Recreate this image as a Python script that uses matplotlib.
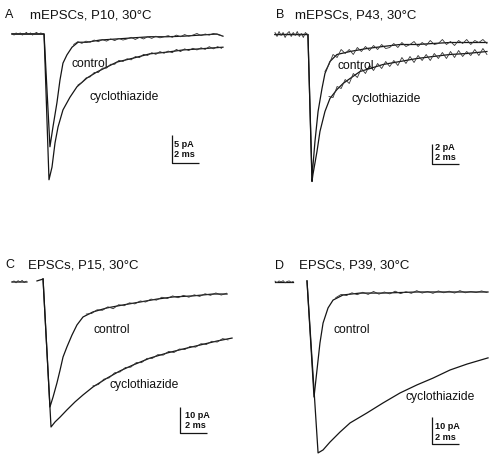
import numpy as np
import matplotlib
matplotlib.use("Agg")
import matplotlib.pyplot as plt

plt.rcParams['font.family'] = ['Liberation Sans', 'DejaVu Sans']

# ---------------- data (time in ms, current in pA) ----------------
# Smooth traces (fitted time course)
# Panel A: mEPSCs, P10
a_ctrl_t = [0, 2.34, 2.77, 2.99, 3.28, 3.50, 3.72, 4.01, 4.38, 4.82, 5.47, 6.42, 7.66, 8.83, 10.07, 11.31, 12.48, 13.72, 14.96, 15.40]
a_ctrl_i = [0, 0, -20.5, -16.9, -12.5, -8.4, -5.3, -3.8, -2.4, -1.5, -1.5, -1.1, -0.9, -0.7, -0.5, -0.5, -0.4, -0.2, 0, -0.4]
a_ctz_t = [0, 2.34, 2.70, 2.92, 3.14, 3.36, 3.72, 4.23, 4.74, 5.47, 6.20, 6.93, 7.66, 8.83, 10.07, 11.31, 12.48, 13.72, 15.40]
a_ctz_i = [0, 0, -26.5, -24.2, -19.8, -16.9, -13.8, -11.5, -9.6, -8.0, -6.9, -6.0, -5.1, -4.4, -3.6, -3.3, -2.9, -2.7, -2.4]

# Panel B: mEPSCs, P43
b_ctrl_t = [0, 2.44, 2.74, 2.96, 3.19, 3.48, 3.70, 4.07, 4.59, 5.56, 6.81, 8.0, 9.26, 10.52, 11.70, 12.96, 14.22, 15.70]
b_ctrl_i = [0, 0, -14.3, -10.7, -7.7, -5.4, -3.9, -2.7, -2.0, -1.7, -1.4, -1.2, -1.0, -1.0, -0.9, -0.8, -0.8, -0.8]
b_ctz_t = [0, 2.44, 2.74, 2.81, 3.11, 3.33, 3.70, 4.07, 4.59, 5.04, 5.56, 6.30, 7.04, 8.0, 9.26, 10.52, 11.70, 12.96, 14.22, 15.70]
b_ctz_i = [0, 0, -14.7, -14.0, -11.7, -9.7, -7.7, -6.4, -5.5, -4.9, -4.4, -3.7, -3.4, -3.0, -2.7, -2.4, -2.2, -2.0, -1.9, -1.7]

# Panel C: EPSCs, P15 (baseline blanked around stimulus)
c_base_t = [0, 1.11, np.nan, 1.85, 2.30]
c_base_i = [0, 0, np.nan, 0.4, 1.1]
c_ctrl_t = [2.30, 2.81, 3.04, 3.33, 3.56, 3.78, 4.07, 4.44, 4.81, 5.26, 6.0, 7.04, 8.22, 9.48, 10.74, 11.93, 13.41, 14.89, 15.93]
c_ctrl_i = [1.1, -46.8, -43.1, -37.8, -33.0, -28.1, -24.3, -19.9, -16.1, -13.1, -11.2, -9.7, -8.6, -7.5, -6.4, -5.6, -5.2, -4.5, -4.5]
c_ctz_t = [2.30, 2.89, 3.19, 3.56, 4.07, 4.67, 5.26, 6.0, 7.04, 8.0, 8.96, 10.22, 11.48, 12.67, 13.93, 15.19, 16.30]
c_ctz_i = [1.1, -54.3, -52.4, -50.6, -47.9, -44.9, -42.3, -39.3, -36.0, -33.3, -31.1, -28.5, -26.6, -25.1, -23.6, -22.1, -21.0]

# Panel D: EPSCs, P39
d_base_t = [0, 1.33]
d_base_i = [0, 0]
d_ctrl_t = [2.37, 2.89, 3.11, 3.33, 3.56, 3.93, 4.30, 5.04, 6.30, 8.0, 10.52, 12.96, 15.78]
d_ctrl_i = [0.4, -42.6, -32.6, -22.6, -15.2, -9.6, -6.7, -4.8, -4.1, -4.1, -3.7, -3.7, -3.7]
d_ctz_t = [2.37, 3.19, 3.56, 4.07, 4.81, 5.56, 6.81, 8.0, 9.26, 10.52, 11.70, 12.96, 14.22, 15.78]
d_ctz_i = [0.4, -63.3, -62.2, -59.3, -55.6, -52.2, -48.5, -44.8, -41.1, -38.1, -35.6, -32.6, -30.4, -28.1]

# Noisy raw-record segments
a_base_nt = [0, 0.15, 0.3, 0.45, 0.6, 0.75, 0.9, 1.05, 1.2, 1.35, 1.5, 1.65, 1.8, 1.95, 2.1, 2.25]
a_base_ni = [0.1, -0.2, 0.2, -0.1, 0.2, -0.2, 0.0, 0.3, -0.1, 0.2, -0.2, 0.1, 0.3, -0.1, 0.2, 0.0]
a_ctrl_nt = [4.5, 4.8, 5.1, 5.4, 5.7, 6.0, 6.3, 6.6, 6.9, 7.2, 7.5, 7.8, 8.1, 8.4, 8.7, 9.0, 9.3, 9.6, 9.9,
             10.2, 10.5, 10.8, 11.1, 11.4, 11.7, 12.0, 12.3, 12.6, 12.9, 13.2, 13.5, 13.8, 14.1, 14.4, 14.7, 15.0, 15.3]
a_ctrl_ni = [-1.9, -1.4, -1.7, -1.3, -1.5, -1.1, -1.4, -1.0, -1.3, -0.9, -1.2, -0.8, -1.1, -0.9, -0.6, -1.0, -0.6, -0.9, -0.5,
             -0.8, -0.4, -0.7, -0.5, -0.3, -0.6, -0.2, -0.5, -0.1, -0.4, -0.2, 0.1, -0.3, 0.0, -0.2, 0.1, -0.1, -0.3]
a_ctz_nt = [4.8, 5.1, 5.4, 5.7, 6.0, 6.3, 6.6, 6.9, 7.2, 7.5, 7.8, 8.1, 8.4, 8.7, 9.0, 9.3, 9.6, 9.9,
            10.2, 10.5, 10.8, 11.1, 11.4, 11.7, 12.0, 12.3, 12.6, 12.9, 13.2, 13.5, 13.8, 14.1, 14.4, 14.7, 15.0, 15.3]
a_ctz_ni = [-9.3, -8.8, -8.0, -7.8, -7.0, -7.0, -6.2, -6.2, -5.5, -5.5, -4.8, -5.0, -4.5, -4.7, -4.1, -4.3, -3.7, -3.9,
            -3.4, -3.7, -3.2, -3.5, -3.1, -3.4, -2.8, -3.2, -2.7, -3.0, -2.6, -2.9, -2.5, -2.8, -2.3, -2.7, -2.3, -2.6]

b_base_nt = [0, 0.15, 0.3, 0.45, 0.6, 0.75, 0.9, 1.05, 1.2, 1.35, 1.5, 1.65, 1.8, 1.95, 2.1, 2.25, 2.4]
b_base_ni = [0.2, -0.2, 0.3, -0.1, 0.2, -0.3, 0.1, 0.3, -0.2, 0.2, -0.1, 0.3, -0.2, 0.1, -0.3, 0.2, 0.0]
b_ctrl_nt = [3.7, 4.0, 4.3, 4.6, 4.9, 5.2, 5.5, 5.8, 6.1, 6.4, 6.7, 7.0, 7.3, 7.6, 7.9, 8.2, 8.5, 8.8, 9.1, 9.4, 9.7,
             10.0, 10.3, 10.6, 10.9, 11.2, 11.5, 11.8, 12.1, 12.4, 12.7, 13.0, 13.3, 13.6, 13.9, 14.2, 14.5, 14.8, 15.1, 15.4, 15.7]
b_ctrl_ni = [-3.7, -3.0, -2.0, -2.3, -1.5, -1.9, -1.5, -2.0, -1.3, -1.7, -1.2, -1.6, -1.1, -1.5, -1.0, -1.4, -1.3, -0.9, -1.3, -0.8, -1.2,
             -1.0, -0.7, -1.2, -0.8, -1.1, -0.6, -1.0, -0.9, -0.5, -1.0, -0.7, -1.1, -0.6, -0.9, -0.5, -1.0, -0.6, -0.8, -0.5, -0.9]
b_ctz_nt = [4.0, 4.3, 4.6, 4.9, 5.2, 5.5, 5.8, 6.1, 6.4, 6.7, 7.0, 7.3, 7.6, 7.9, 8.2, 8.5, 8.8, 9.1, 9.4, 9.7,
            10.0, 10.3, 10.6, 10.9, 11.2, 11.5, 11.8, 12.1, 12.4, 12.7, 13.0, 13.3, 13.6, 13.9, 14.2, 14.5, 14.8, 15.1, 15.4, 15.7]
b_ctz_ni = [-6.2, -6.3, -5.2, -5.4, -4.5, -4.9, -3.9, -4.3, -3.4, -3.9, -3.1, -3.6, -2.9, -3.4, -2.7, -3.2, -2.6, -3.1, -2.3, -2.9,
            -2.2, -2.8, -2.1, -2.6, -2.0, -2.6, -1.9, -2.4, -1.8, -2.4, -1.7, -2.3, -1.6, -2.2, -1.7, -2.1, -1.5, -2.1, -1.4, -2.0]

c_base_nt = [0, 0.15, 0.3, 0.45, 0.6, 0.75, 0.9, 1.05]
c_base_ni = [0, 0.4, -0.3, 0.5, 0, 0.6, -0.2, 0.3]
c_ctrl_nt = [5.5, 5.9, 6.3, 6.7, 7.1, 7.5, 7.9, 8.3, 8.7, 9.1, 9.5, 9.9, 10.3, 10.7, 11.1, 11.5, 11.9, 12.3, 12.7,
             13.1, 13.5, 13.9, 14.3, 14.7, 15.1, 15.5, 15.9]
c_ctrl_ni = [-12.0, -11.8, -10.4, -10.6, -9.3, -10.0, -8.5, -8.9, -7.8, -8.2, -7.1, -7.5, -6.4, -6.8, -5.7, -6.2, -5.2, -5.9, -5.0,
             -5.7, -4.8, -5.4, -4.4, -5.0, -4.1, -4.9, -4.2]
c_ctz_nt = [6.0, 6.4, 6.8, 7.2, 7.6, 8.0, 8.4, 8.8, 9.2, 9.6, 10.0, 10.4, 10.8, 11.2, 11.6, 12.0, 12.4, 12.8, 13.2,
            13.6, 14.0, 14.4, 14.8, 15.2, 15.6, 16.0]
c_ctz_ni = [-38.9, -38.4, -36.4, -35.9, -34.0, -33.7, -32.0, -31.9, -30.2, -30.2, -28.6, -28.6, -27.2, -27.4, -26.0, -26.4, -25.1, -25.3, -24.1,
            -24.4, -23.1, -23.4, -22.2, -22.5, -21.2, -21.7]

d_base_nt = [0, 0.15, 0.3, 0.45, 0.6, 0.75, 0.9, 1.05, 1.2, 1.35]
d_base_ni = [0.3, -0.2, 0.4, 0, 0.5, -0.3, 0.2, 0.4, -0.1, 0.2]
d_ctrl_nt = [4.5, 4.9, 5.3, 5.7, 6.1, 6.5, 6.9, 7.3, 7.7, 8.1, 8.5, 8.9, 9.3, 9.7, 10.1, 10.5, 10.9, 11.3, 11.7,
             12.1, 12.5, 12.9, 13.3, 13.7, 14.1, 14.5, 14.9, 15.3, 15.7]
d_ctrl_ni = [-5.8, -4.6, -5.0, -4.0, -4.7, -3.8, -4.6, -3.5, -4.5, -3.7, -4.4, -3.4, -4.3, -3.6, -4.2, -3.2, -4.1, -3.5, -4.2,
             -3.3, -4.0, -3.4, -4.1, -3.2, -4.0, -3.5, -3.9, -3.3, -3.9]

panel_letters = ["A", "B", "C", "D"]
panel_titles = ["mEPSCs, P10, 30°C", "mEPSCs, P43, 30°C", "EPSCs, P15, 30°C", "EPSCs, P39, 30°C"]
trace_labels = ["control", "cyclothiazide"]
scale_pA = [5, 2, 10, 10]
scale_ms = [2, 2, 2, 2]

# ---------------- layout ----------------
W, H = 500, 461
fig = plt.figure(figsize=(W / 100, H / 100), dpi=100)
LC = '#151515'


def panel_axes(x0, y0, ppms, pppa):
    ax = fig.add_axes([0, 0, 1, 1])
    ax.set_xlim(-x0 / ppms, (W - x0) / ppms)
    ax.set_ylim(-(H - y0) / pppa, y0 / pppa)
    ax.axis('off')
    ax.patch.set_alpha(0)
    return ax


def scale_bar(ax, px, py, ppms, pppa, x0, y0, ms, pa):
    t = (px - x0) / ppms
    i = -(py - y0) / pppa
    ax.plot([t, t, t + ms], [i + pa, i, i], color=LC, lw=0.9, solid_capstyle='butt')


def ftext(x, y, s, **kw):
    fig.text(x / W, 1 - y / H, s, va='baseline', ha='left', color='#111111', **kw)


# (x0, y0, px per ms, px per pA)
geo = [(12, 34, 13.7, 5.5), (275, 34.5, 13.5, 10.0), (12, 282, 13.5, 2.67), (275, 282, 13.5, 2.7)]
traces = [
    [(a_ctrl_t, a_ctrl_i), (a_ctz_t, a_ctz_i)],
    [(b_ctrl_t, b_ctrl_i), (b_ctz_t, b_ctz_i)],
    [(c_base_t, c_base_i), (c_ctrl_t, c_ctrl_i), (c_ctz_t, c_ctz_i)],
    [(d_base_t, d_base_i), (d_ctrl_t, d_ctrl_i), (d_ctz_t, d_ctz_i)],
]
noisy = [
    [(a_base_nt, a_base_ni), (a_ctrl_nt, a_ctrl_ni), (a_ctz_nt, a_ctz_ni)],
    [(b_base_nt, b_base_ni), (b_ctrl_nt, b_ctrl_ni), (b_ctz_nt, b_ctz_ni)],
    [(c_base_nt, c_base_ni), (c_ctrl_nt, c_ctrl_ni), (c_ctz_nt, c_ctz_ni)],
    [(d_base_nt, d_base_ni), (d_ctrl_nt, d_ctrl_ni)],
]
bar_corner = [(171.7, 162.7), (431.7, 164), (180, 433.3), (432, 444)]
letter_pos = [(5, 18), (276, 18), (5, 268), (275, 269)]
title_pos = [(30, 18), (295, 18), (28, 268), (299, 269)]
ctrl_pos = [(71, 67), (337, 69), (94, 333), (333, 333)]
ctz_pos = [(89, 100), (352, 102), (110, 388), (405, 400)]
sb_text = [(174, 147, 157), (435, 150, 160), (185, 418, 428), (435, 429, 440)]

for k in range(4):
    x0, y0, ppms, pppa = geo[k]
    ax = panel_axes(x0, y0, ppms, pppa)
    for t, i in traces[k]:
        ax.plot(t, i, color=LC, lw=0.9, solid_joinstyle='round')
    for t, i in noisy[k]:
        ax.plot(t, i, color='#333333', lw=0.6, solid_joinstyle='round')
    scale_bar(ax, bar_corner[k][0], bar_corner[k][1], ppms, pppa, x0, y0, scale_ms[k], scale_pA[k])
    ftext(*letter_pos[k], panel_letters[k], fontsize=9)
    ftext(*title_pos[k], panel_titles[k], fontsize=9.5)
    ftext(*ctrl_pos[k], trace_labels[0], fontsize=8.7)
    ftext(*ctz_pos[k], trace_labels[1], fontsize=8.7)
    sx, sy1, sy2 = sb_text[k]
    ftext(sx, sy1, f"{scale_pA[k]} pA", fontsize=6.6, fontweight='bold')
    ftext(sx, sy2, f"{scale_ms[k]} ms", fontsize=6.6, fontweight='bold')

fig.savefig("out.png", dpi=100, facecolor='white')
